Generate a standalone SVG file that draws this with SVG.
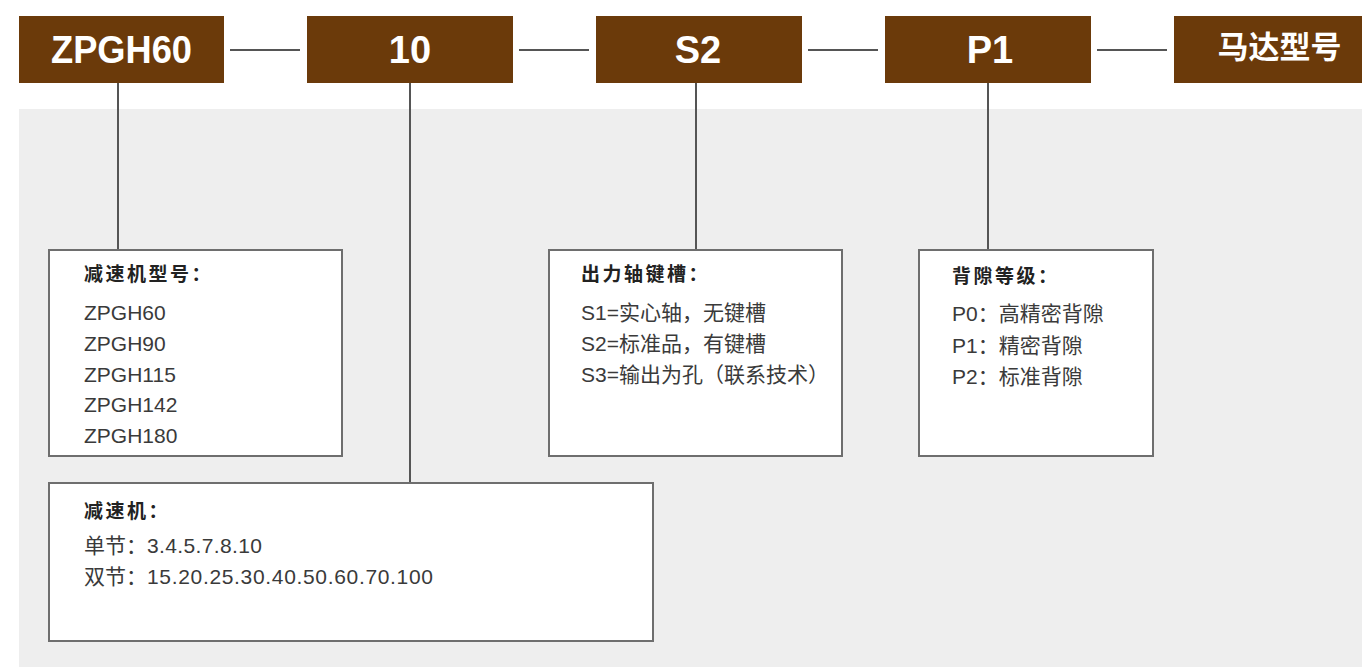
<svg xmlns="http://www.w3.org/2000/svg" width="1362" height="667" viewBox="0 0 1362 667">
<style>
.hdr{fill:#6b3a0a}
.hdrt{fill:#ffffff;font-family:"Liberation Sans","Noto Sans CJK SC",sans-serif;font-weight:bold;font-size:38px;text-anchor:middle}
.hdrc{fill:#ffffff;font-family:"Noto Sans CJK SC",sans-serif;font-weight:bold;font-size:31px;text-anchor:middle}
.card{fill:#ffffff;stroke:#6e6e6e;stroke-width:2}
.ttl{fill:#222;font-family:"Noto Sans CJK SC",sans-serif;font-weight:bold;font-size:19px;letter-spacing:2.5px}
.itm{fill:#3a3a3a;font-family:"Liberation Sans","Noto Sans CJK SC",sans-serif;font-size:21px}
.ln{stroke:#555;stroke-width:2;fill:none}
</style>
<rect x="0" y="0" width="1362" height="667" fill="#ffffff"/>
<rect x="19" y="109" width="1343" height="558" fill="#eeeeee"/>
<g id="connectors">
<line class="ln" x1="230" y1="50" x2="300" y2="50"/>
<line class="ln" x1="519" y1="50" x2="589" y2="50"/>
<line class="ln" x1="808" y1="50" x2="878" y2="50"/>
<line class="ln" x1="1097" y1="50" x2="1167" y2="50"/>
<line class="ln" x1="118" y1="83" x2="118" y2="250"/>
<line class="ln" x1="410" y1="83" x2="410" y2="483"/>
<line class="ln" x1="696" y1="83" x2="696" y2="250"/>
<line class="ln" x1="988" y1="83" x2="988" y2="250"/>
</g>
<g id="h-zpgh60"><rect class="hdr" x="19" y="16" width="205" height="67"/><text class="hdrt" x="121.5" y="63" textLength="141" lengthAdjust="spacingAndGlyphs">ZPGH60</text></g>
<g id="h-10"><rect class="hdr" x="307" y="16" width="206" height="67"/><text class="hdrt" x="410" y="63">10</text></g>
<g id="h-s2"><rect class="hdr" x="596" y="16" width="206" height="67"/><text class="hdrt" x="698" y="63">S2</text></g>
<g id="h-p1"><rect class="hdr" x="885" y="16" width="206" height="67"/><text class="hdrt" x="990" y="63">P1</text></g>
<g id="h-motor"><rect class="hdr" x="1174" y="16" width="188" height="67"/><text class="hdrc" x="1279.5" y="57.5">马达型号</text></g>
<g id="box-model">
<rect class="card" x="49" y="250" width="293" height="206"/>
<text class="ttl" x="84" y="281">减速机型号：</text>
<text class="itm" x="84" y="320">ZPGH60</text>
<text class="itm" x="84" y="351">ZPGH90</text>
<text class="itm" x="84" y="381.5">ZPGH115</text>
<text class="itm" x="84" y="412">ZPGH142</text>
<text class="itm" x="84" y="442.5">ZPGH180</text>
</g>
<g id="box-shaft">
<rect class="card" x="549" y="250" width="293" height="206"/>
<text class="ttl" x="581" y="281">出力轴键槽：</text>
<text class="itm" x="581" y="320">S1=实心轴，无键槽</text>
<text class="itm" x="581" y="351">S2=标准品，有键槽</text>
<text class="itm" x="581" y="382">S3=输出为孔（联系技术）</text>
</g>
<g id="box-backlash">
<rect class="card" x="919" y="250" width="234" height="206"/>
<text class="ttl" x="952" y="283">背隙等级：</text>
<text class="itm" x="952" y="321">P0：高精密背隙</text>
<text class="itm" x="952" y="353">P1：精密背隙</text>
<text class="itm" x="952" y="384">P2：标准背隙</text>
</g>
<g id="box-ratio">
<rect class="card" x="49" y="483" width="604" height="158"/>
<text class="ttl" x="84" y="518">减速机：</text>
<text class="itm" x="84" y="553">单节：<tspan textLength="115">3.4.5.7.8.10</tspan></text>
<text class="itm" x="84" y="584">双节：<tspan textLength="286">15.20.25.30.40.50.60.70.100</tspan></text>
</g>
</svg>
